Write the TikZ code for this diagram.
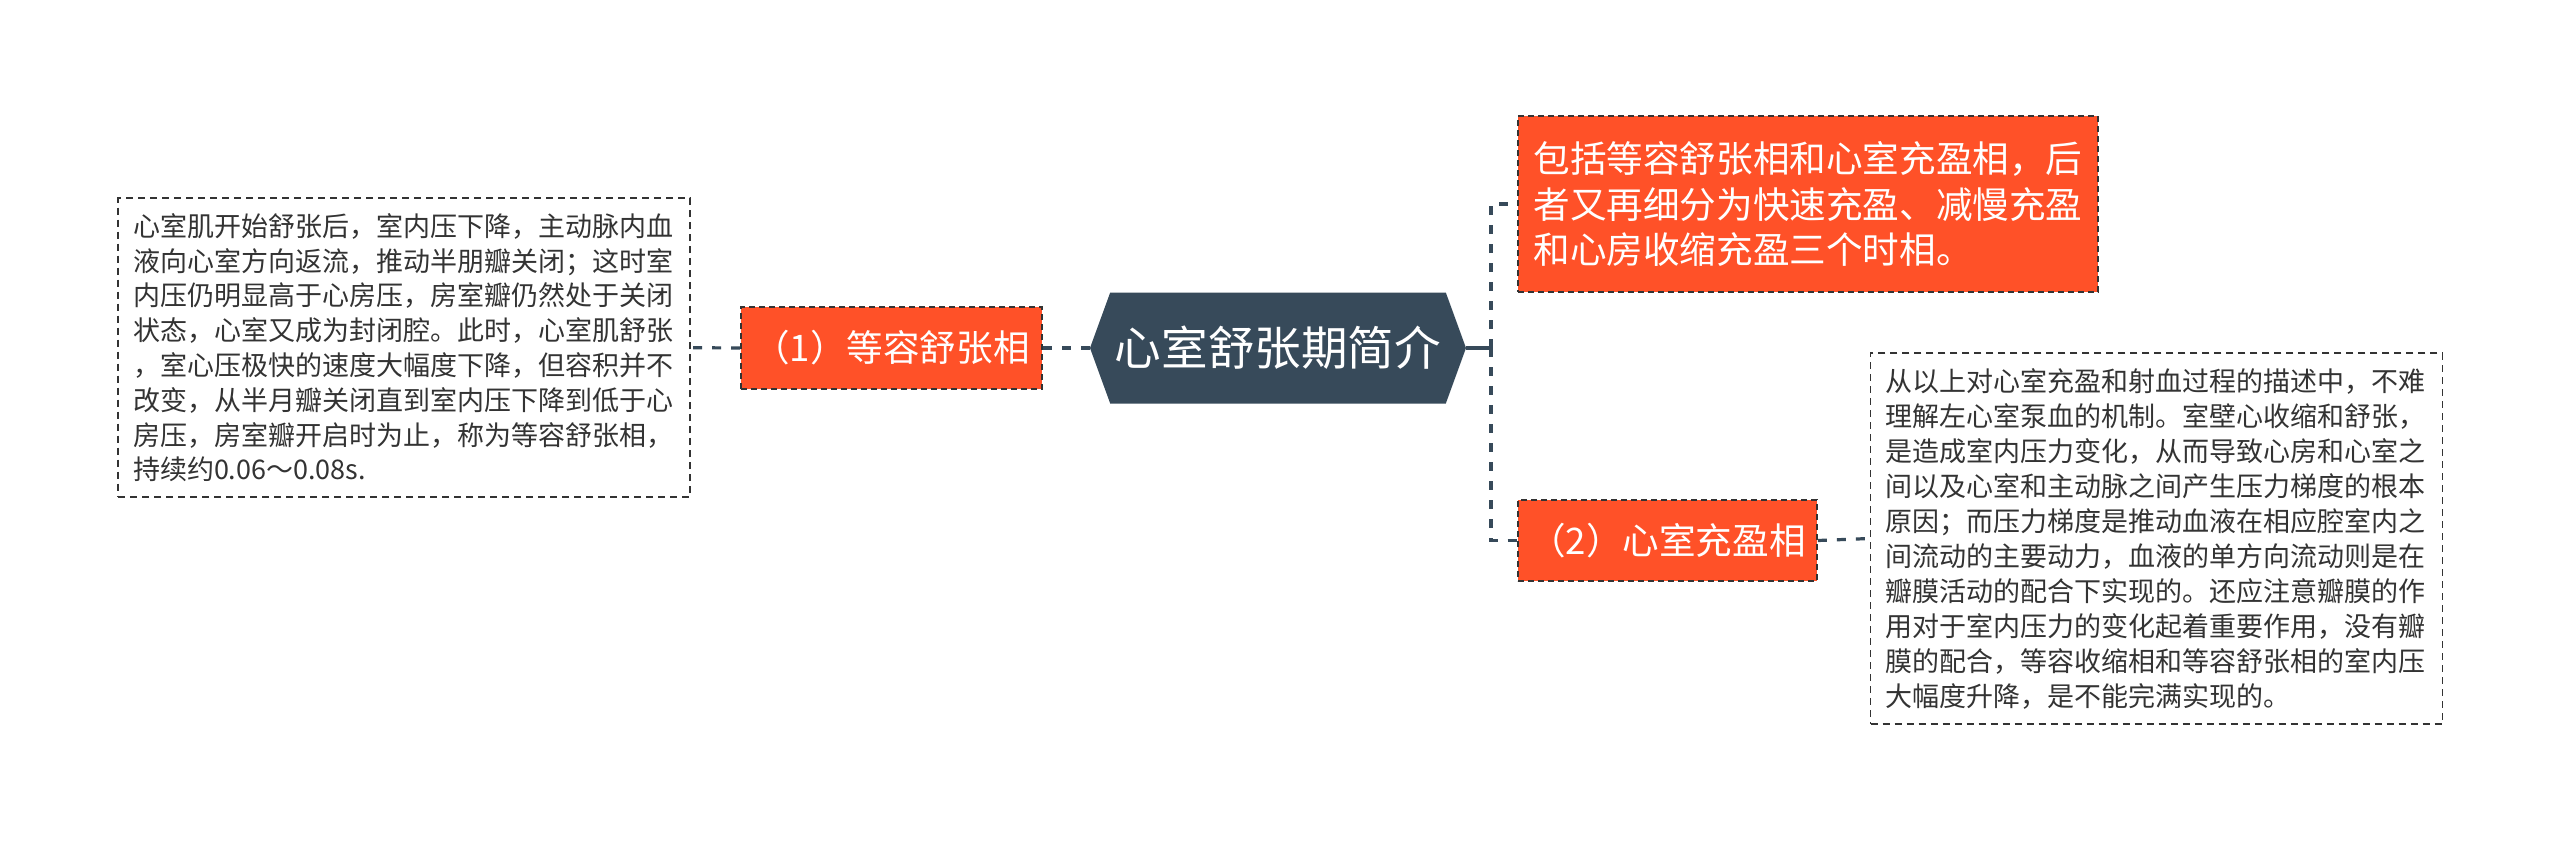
\documentclass[tikz,border=0pt]{standalone}
\usepackage{fontspec}
\setmainfont{Noto Sans CJK SC}
\usepackage{tikz}
\usetikzlibrary{shapes,positioning}
\definecolor{slate}{HTML}{374A5A}
\definecolor{flame}{HTML}{FF5128}
\definecolor{ink}{HTML}{333333}
\tikzstyle{phase} = [draw=ink, dashed, dash pattern=on 3pt off 2pt, line width=0.9pt, fill=flame,
    text=white, font=\fontsize{18.3}{22.9}\selectfont, inner sep=0pt]
\tikzstyle{note} = [draw=ink, dash pattern=on 3.5pt off 2.5pt, line width=0.85pt, fill=white,
    text=ink, align=left, inner sep=7.5pt, text width=271pt]
\tikzset{
  conn/.style ={draw=slate, line width=1.6pt, dash pattern=on 4.5pt off 5pt},
  stub/.style ={draw=slate, line width=1.6pt}
}
\begin{document}
\begin{tikzpicture}[x=0.5pt,y=-0.5pt]
  \useasboundingbox[fill=white] (0,0) rectangle (2560,846);
  \node[signal, signal to=east and west, signal pointer angle=140, fill=slate, text=white,
    minimum width=188pt, minimum height=55.5pt, inner xsep=2pt,
    font=\fontsize{23.3}{28}\selectfont] (title) at (1278,348) {心室舒张期简介};
  \node[phase, minimum width=150.5pt, minimum height=41pt] (phase_one) at (891.5,348) {（1）等容舒张相};
  \node[phase, minimum width=149.5pt, minimum height=40.5pt] (phase_two) at (1667.5,540.5) {（2）心室充盈相};
  \node[phase, align=left, minimum width=290pt, minimum height=88pt] (summary) at (1808,204)
    {包括等容舒张相和心室充盈相，后\\者又再细分为快速充盈、减慢充盈\\和心房收缩充盈三个时相。};
  \node[note, font=\fontsize{13.5}{17.4}\selectfont] (phase_one_text) at (404,347.7)
    {心室肌开始舒张后，室内压下降，主动脉内血\\液向心室方向返流，推动半朋瓣关闭；这时室\\内压仍明显高于心房压，房室瓣仍然处于关闭\\状态，心室又成为封闭腔。此时，心室肌舒张\\，室心压极快的速度大幅度下降，但容积并不\\改变，从半月瓣关闭直到室内压下降到低于心\\房压，房室瓣开启时为止，称为等容舒张相，\\持续约0.06～0.08s.};
  \node[note, font=\fontsize{13.5}{17.5}\selectfont] (phase_two_text) at (2156.5,538.5)
    {从以上对心室充盈和射血过程的描述中，不难\\理解左心室泵血的机制。室壁心收缩和舒张，\\是造成室内压力变化，从而导致心房和心室之\\间以及心室和主动脉之间产生压力梯度的根本\\原因；而压力梯度是推动血液在相应腔室内之\\间流动的主要动力，血液的单方向流动则是在\\瓣膜活动的配合下实现的。还应注意瓣膜的作\\用对于室内压力的变化起着重要作用，没有瓣\\膜的配合，等容收缩相和等容舒张相的室内压\\大幅度升降，是不能完满实现的。};
  \coordinate (hub) at (1491,348);

  \begin{scope}
    \path[conn] (title.west) -- (phase_one.east);
    \path[conn] (phase_one.west) -- (phase_one_text.east);
    \path[stub] (title.east) -- (hub);
    \path[conn] (hub) |- (summary.west);
    \path[conn] (hub) |- (phase_two.west);
    \path[conn] (phase_two.east) -- (phase_two_text.west);
  \end{scope}

\end{tikzpicture}
\end{document}
